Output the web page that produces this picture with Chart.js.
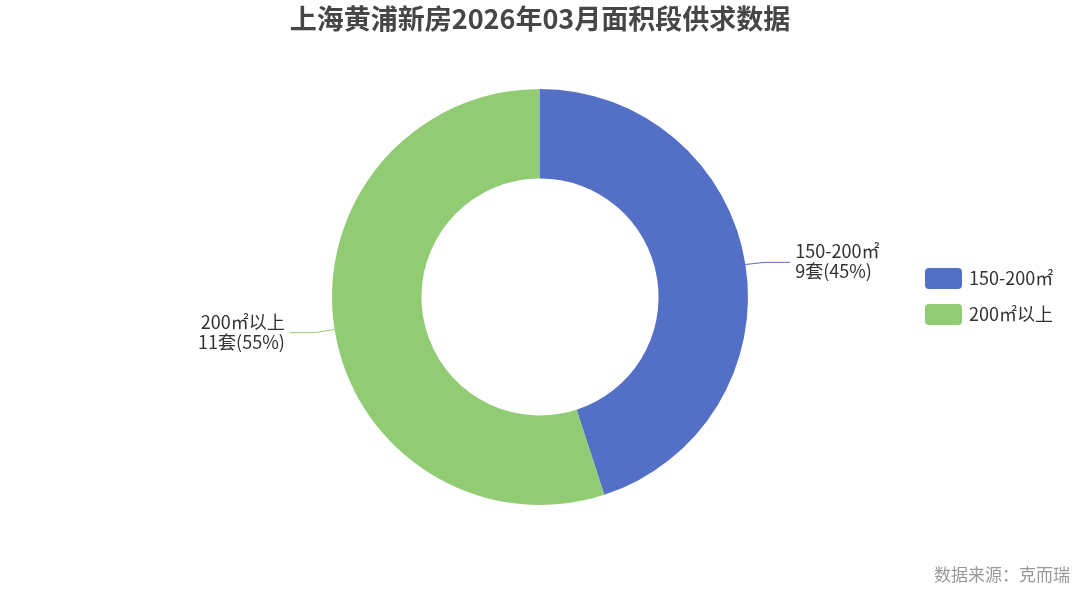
<!DOCTYPE html>
<html>
<head>
<meta charset="utf-8">
<script src="https://cdn.jsdelivr.net/npm/chart.js@4"></script>
<style>
  html, body { margin: 0; padding: 0; background: #fff; overflow: hidden; }
  canvas { display: block; }
</style>
</head>
<body>
<canvas id="pieChart" width="1080" height="593"></canvas>
<script>
const categories = ['150-200㎡', '200㎡以上'];
const counts = [9, 11];
const colors = ['#5470c6', '#91cc75'];
const titleText = '上海黄浦新房2026年03月面积段供求数据';
const sourceText = '数据来源：克而瑞';

const total = counts.reduce((a, b) => a + b, 0);
const FONT = '"Noto Sans CJK SC", "Noto Sans", sans-serif';

// labels outside the ring, with leader lines
const outerLabels = {
    id: 'outerLabels',
    afterDatasetsDraw(chart) {
        const ctx = chart.ctx;
        const arcs = chart.getDatasetMeta(0).data;
        ctx.save();
        arcs.forEach((arc, i) => {
            const mid = (arc.startAngle + arc.endAngle) / 2;
            const r = arc.outerRadius;
            const right = Math.cos(mid) >= 0;
            const x0 = arc.x + Math.cos(mid) * r;
            const y0 = arc.y + Math.sin(mid) * r;
            const x1 = arc.x + Math.cos(mid) * (r + 20);
            const y1 = arc.y + Math.sin(mid) * (r + 20) + (right ? 1 : 0);
            const x2 = x1 + (right ? 25 : -25);
            ctx.strokeStyle = colors[i];
            ctx.lineWidth = 1;
            ctx.beginPath();
            ctx.moveTo(x0, y0);
            ctx.lineTo(x1, y1);
            ctx.lineTo(x2, y1);
            ctx.stroke();

            const pct = Math.round(counts[i] / total * 100);
            ctx.fillStyle = '#333';
            ctx.font = '18px ' + FONT;
            ctx.textAlign = right ? 'left' : 'right';
            ctx.textBaseline = 'middle';
            const tx = x2 + (right ? 5 : -5);
            ctx.fillText(categories[i], tx, y1 - 11);
            ctx.fillText(counts[i] + '套(' + pct + '%)', tx, y1 + 9);
        });
        ctx.restore();
    }
};

// title, legend and source note
const decor = {
    id: 'decor',
    afterDraw(chart) {
        const ctx = chart.ctx;
        ctx.save();
        ctx.fillStyle = '#464646';
        ctx.font = 'bold 27px ' + FONT;
        ctx.textAlign = 'center';
        ctx.textBaseline = 'middle';
        ctx.fillText(titleText, 540, 19);

        categories.forEach((name, i) => {
            const y = 268 + i * 36;
            ctx.fillStyle = colors[i];
            ctx.beginPath();
            ctx.roundRect(925, y, 37, 21, 4);
            ctx.fill();
            ctx.fillStyle = '#333';
            ctx.font = '18px ' + FONT;
            ctx.textAlign = 'left';
            ctx.fillText(name, 969, y + 10);
        });

        ctx.fillStyle = '#999';
        ctx.font = '17px ' + FONT;
        ctx.textAlign = 'right';
        ctx.fillText(sourceText, 1070, 575);
        ctx.restore();
    }
};

new Chart(document.getElementById('pieChart'), {
    type: 'doughnut',
    data: {
        labels: categories,
        datasets: [{
            data: counts,
            backgroundColor: colors,
            borderWidth: 0
        }]
    },
    options: {
        responsive: false,
        animation: false,
        events: [],
        cutout: '57%',
        layout: {
            padding: { top: 89, bottom: 88, left: 200, right: 200 }
        },
        plugins: {
            legend: { display: false },
            tooltip: { enabled: false }
        }
    },
    plugins: [outerLabels, decor]
});
</script>
</body>
</html>
